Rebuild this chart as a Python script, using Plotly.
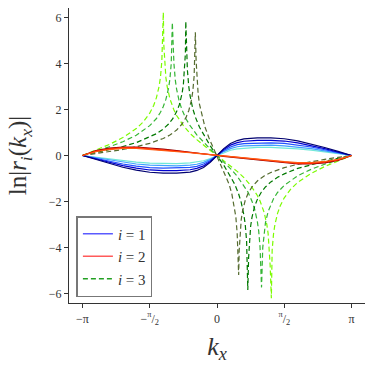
import plotly.graph_objects as go

# kx in units of pi
t_grid = [-1, -0.9, -0.8, -0.7, -0.6, -0.5, -0.4, -0.3, -0.2, -0.15, -0.1, -0.05, 0,
          0.05, 0.1, 0.15, 0.2, 0.3, 0.4, 0.5, 0.6, 0.7, 0.8, 0.9, 1]

# i = 1 family (blue shades)
blue_navy = [0, -0.18, -0.35, -0.51, -0.64, -0.73, -0.77, -0.77, -0.72, -0.65, -0.52, -0.30, 0,
             0.30, 0.52, 0.65, 0.72, 0.77, 0.77, 0.73, 0.64, 0.51, 0.35, 0.18, 0]
blue_dark = [0, -0.15, -0.30, -0.44, -0.55, -0.63, -0.66, -0.66, -0.62, -0.56, -0.45, -0.26, 0,
             0.26, 0.45, 0.56, 0.62, 0.66, 0.66, 0.63, 0.55, 0.44, 0.30, 0.15, 0]
blue_mid = [0, -0.13, -0.25, -0.37, -0.46, -0.53, -0.55, -0.55, -0.52, -0.47, -0.37, -0.22, 0,
            0.22, 0.37, 0.47, 0.52, 0.55, 0.55, 0.53, 0.46, 0.37, 0.25, 0.13, 0]
blue_sky = [0, -0.10, -0.20, -0.30, -0.37, -0.42, -0.45, -0.45, -0.42, -0.38, -0.30, -0.17, 0,
            0.17, 0.30, 0.38, 0.42, 0.45, 0.45, 0.42, 0.37, 0.30, 0.20, 0.10, 0]
blue_cyan = [0, -0.08, -0.16, -0.23, -0.29, -0.33, -0.35, -0.35, -0.32, -0.29, -0.23, -0.13, 0,
             0.13, 0.23, 0.29, 0.32, 0.35, 0.35, 0.33, 0.29, 0.23, 0.16, 0.08, 0]

# i = 2 family (red shades)
red_dark = [0, 0.21, 0.32, 0.37, 0.37, 0.33, 0.28, 0.21, 0.15, 0.11, 0.07, 0.04, 0,
            -0.04, -0.07, -0.11, -0.15, -0.21, -0.28, -0.33, -0.37, -0.37, -0.32, -0.21, 0]
red_mid = [0, 0.19, 0.29, 0.34, 0.34, 0.30, 0.25, 0.19, 0.13, 0.10, 0.07, 0.03, 0,
           -0.03, -0.07, -0.10, -0.13, -0.19, -0.25, -0.30, -0.34, -0.34, -0.29, -0.19, 0]
red_orange = [0, 0.17, 0.26, 0.31, 0.31, 0.27, 0.22, 0.17, 0.12, 0.09, 0.06, 0.03, 0,
              -0.03, -0.06, -0.09, -0.12, -0.17, -0.22, -0.27, -0.31, -0.31, -0.26, -0.17, 0]

# i = 3 family (green shades, dashed)
lg_t = [-1, -0.9, -0.8, -0.7, -0.6, -0.55, -0.5, -0.47, -0.45, -0.43, -0.42, -0.41, -0.405,
        -0.399, -0.395, -0.39, -0.38, -0.37, -0.35, -0.32, -0.3, -0.25, -0.2, -0.15, -0.1,
        -0.05, 0, 0.05, 0.1, 0.15, 0.2, 0.25, 0.3, 0.32, 0.35, 0.37, 0.38, 0.39, 0.395,
        0.404, 0.41, 0.42, 0.43, 0.45, 0.47, 0.5, 0.55, 0.6, 0.7, 0.8, 0.9, 1]
lg_y = [0, 0.23, 0.48, 0.78, 1.17, 1.45, 1.84, 2.19, 2.52, 3.02, 3.42, 4.11, 4.80,
        6.23, 4.79, 4.10, 3.40, 2.99, 2.47, 1.98, 1.74, 1.30, 0.96, 0.69, 0.44,
        0.22, 0, -0.22, -0.44, -0.69, -0.96, -1.30, -1.74, -1.98, -2.47, -2.99, -3.40, -4.10, -4.79,
        -6.21, -4.11, -3.42, -3.02, -2.52, -2.19, -1.84, -1.45, -1.17, -0.78, -0.48, -0.23, 0]

mg_t = [-1, -0.9, -0.8, -0.7, -0.6, -0.5, -0.45, -0.42, -0.4, -0.38, -0.36, -0.35, -0.34,
        -0.332, -0.325, -0.32, -0.31, -0.3, -0.28, -0.26, -0.23, -0.2, -0.15, -0.1, -0.05, 0,
        0.05, 0.1, 0.15, 0.2, 0.23, 0.26, 0.28, 0.3, 0.31, 0.32, 0.331, 0.34, 0.35, 0.36,
        0.38, 0.4, 0.42, 0.45, 0.5, 0.6, 0.7, 0.8, 0.9, 1]
mg_y = [0, 0.18, 0.38, 0.60, 0.88, 1.30, 1.61, 1.88, 2.12, 2.44, 2.93, 3.33, 4.01,
        5.79, 4.69, 3.99, 3.29, 2.88, 2.34, 1.99, 1.59, 1.30, 0.90, 0.57, 0.28, 0,
        -0.28, -0.57, -0.90, -1.30, -1.59, -1.99, -2.34, -2.88, -3.29, -3.99, -5.74, -4.01, -3.33, -2.93,
        -2.44, -2.12, -1.88, -1.61, -1.30, -0.88, -0.60, -0.38, -0.18, 0]

dg_t = [-1, -0.9, -0.8, -0.7, -0.6, -0.5, -0.45, -0.4, -0.36, -0.33, -0.3, -0.28, -0.26,
        -0.25, -0.24, -0.235, -0.232, -0.225, -0.22, -0.21, -0.2, -0.18, -0.16, -0.13, -0.1,
        -0.05, 0, 0.05, 0.1, 0.13, 0.16, 0.18, 0.2, 0.21, 0.22, 0.229, 0.235, 0.24, 0.25,
        0.26, 0.28, 0.3, 0.33, 0.36, 0.4, 0.45, 0.5, 0.6, 0.7, 0.8, 0.9, 1]
dg_y = [0, 0.12, 0.25, 0.39, 0.56, 0.80, 0.95, 1.15, 1.37, 1.59, 1.91, 2.21, 2.69,
        3.08, 3.76, 4.44, 5.84, 4.42, 3.72, 3.01, 2.59, 2.04, 1.66, 1.23, 0.92,
        0.42, 0, -0.42, -0.92, -1.23, -1.66, -2.04, -2.59, -3.01, -3.72, -5.85, -4.44, -3.76, -3.08,
        -2.69, -2.21, -1.91, -1.59, -1.37, -1.15, -0.95, -0.80, -0.56, -0.39, -0.25, -0.12, 0]

og_t = [-1, -0.9, -0.8, -0.7, -0.6, -0.5, -0.4, -0.35, -0.3, -0.26, -0.23, -0.21, -0.19,
        -0.18, -0.17, -0.165, -0.161, -0.155, -0.15, -0.14, -0.13, -0.11, -0.09, -0.06, -0.03, 0,
        0.03, 0.06, 0.09, 0.11, 0.13, 0.14, 0.15, 0.161, 0.165, 0.17, 0.18, 0.19, 0.21, 0.23,
        0.26, 0.3, 0.35, 0.4, 0.5, 0.6, 0.7, 0.8, 0.9, 1]
og_y = [0, 0.08, 0.17, 0.26, 0.38, 0.53, 0.74, 0.89, 1.11, 1.37, 1.66, 1.95, 2.41,
        2.79, 3.45, 4.13, 5.36, 4.10, 3.39, 2.67, 2.23, 1.66, 1.25, 0.77, 0.37, 0,
        -0.37, -0.77, -1.25, -1.66, -2.23, -2.67, -3.39, -5.20, -4.13, -3.45, -2.79, -2.41, -1.95, -1.66,
        -1.37, -1.11, -0.89, -0.74, -0.53, -0.38, -0.26, -0.17, -0.08, 0]

x_tick_vals = [-1, -0.5, 0, 0.5, 1]
x_tick_text = ["\u2212\u03c0", "\u2212<sup>\u03c0</sup>/<sub>2</sub>", "0", "<sup>\u03c0</sup>/<sub>2</sub>", "\u03c0"]
y_tick_vals = [-6, -4, -2, 0, 2, 4, 6]
y_tick_text = ["\u22126", "\u22124", "\u22122", "0", "2", "4", "6"]

FONT = "Liberation Serif"
DASH = "5px,3px"

fig = go.Figure()

greens = [(lg_t, lg_y, "#7cfc00"), (mg_t, mg_y, "#35b535"),
          (dg_t, dg_y, "#007800"), (og_t, og_y, "#556b2f")]
for tx, ty, col in greens:
    fig.add_trace(go.Scatter(x=tx, y=ty, mode="lines", showlegend=False,
                             line=dict(color=col, width=1.2, dash=DASH)))

blues = [(blue_cyan, "#70e8d8"), (blue_sky, "#3fa0ff"), (blue_mid, "#2050ff"),
         (blue_dark, "#0000d0"), (blue_navy, "#000070")]
for ys, col in blues:
    fig.add_trace(go.Scatter(x=t_grid, y=ys, mode="lines", showlegend=False,
                             line=dict(color=col, width=1.2)))

reds = [(red_dark, "#900000"), (red_mid, "#ff1a00"), (red_orange, "#ff5a10")]
for ys, col in reds:
    fig.add_trace(go.Scatter(x=t_grid, y=ys, mode="lines", showlegend=False,
                             line=dict(color=col, width=1.2)))

# legend proxies
fig.add_trace(go.Scatter(x=[None], y=[None], mode="lines", name="<i>i</i> = 1",
                         line=dict(color="#5a5aff", width=1.5)))
fig.add_trace(go.Scatter(x=[None], y=[None], mode="lines", name="<i>i</i> = 2",
                         line=dict(color="#ff5a5a", width=1.5)))
fig.add_trace(go.Scatter(x=[None], y=[None], mode="lines", name="<i>i</i> = 3",
                         line=dict(color="#22a022", width=1.5, dash=DASH)))

fig.update_layout(
    width=374, height=373,
    margin=dict(l=69, r=9, t=8, b=70),
    paper_bgcolor="white", plot_bgcolor="white",
    font=dict(family=FONT, color="#333333", size=12),
    legend=dict(x=0.025, y=0.02, xanchor="left", yanchor="bottom",
                bgcolor="white", bordercolor="#777777", borderwidth=1.5,
                font=dict(size=15, family=FONT), itemwidth=30,
                tracegroupgap=0),
)
fig.update_xaxes(range=[-1.1, 1.1], tickvals=x_tick_vals, ticktext=x_tick_text,
                 showgrid=False, zeroline=False, showline=True, linecolor="#333333",
                 linewidth=1.2, ticks="outside", ticklen=4, tickcolor="#333333",
                 tickfont=dict(size=12), automargin=False,
                 title=dict(text="<i>k<sub>x</sub></i>", font=dict(size=26), standoff=10))
fig.update_yaxes(range=[-6.42, 6.42], tickvals=y_tick_vals, ticktext=y_tick_text,
                 showgrid=False, zeroline=False, showline=True, linecolor="#333333",
                 linewidth=1.2, ticks="outside", ticklen=4, tickcolor="#333333",
                 tickfont=dict(size=12), automargin=False,
                 title=dict(text="ln|<i>r<sub>i</sub></i>(<i>k<sub>x</sub></i>)|",
                            font=dict(size=25), standoff=14))

# page has a default 8px body margin; remove it so the figure sits at the corner
fig.write_html("out.html", config={"displayModeBar": False},
               post_script="document.body.style.margin='0';")
